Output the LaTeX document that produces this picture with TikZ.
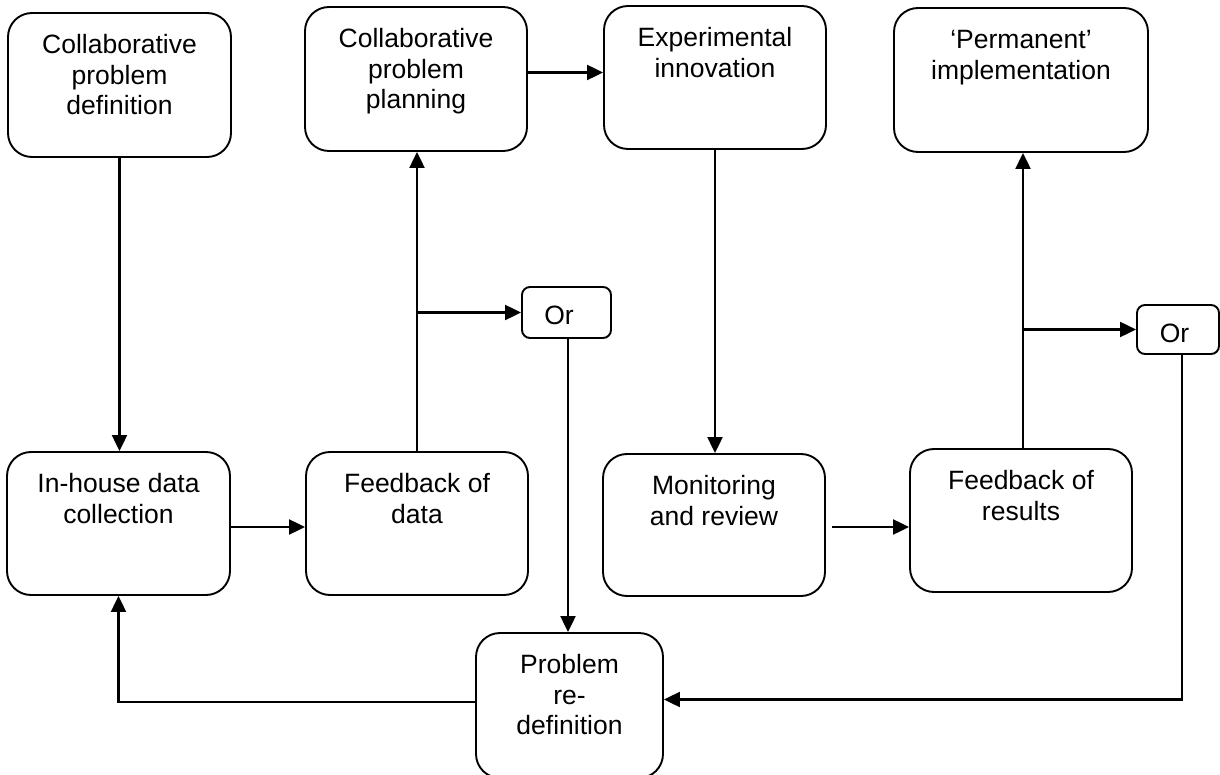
\documentclass[tikz,border=0pt]{standalone}
\usepackage{fontspec}
\setmainfont{Liberation Sans}
\usetikzlibrary{arrows.meta}
% top-aligned text block of a given width and height
\newcommand{\boxbody}[3]{\begin{minipage}[c][#2][t]{#1}\centering\vspace*{19.5pt}\strut #3\end{minipage}}

\begin{document}
\begin{tikzpicture}[x=1pt,y=-1pt,
  stage/.style={draw, line width=1.9pt, rounded corners=24pt, inner sep=0pt,
    font=\fontsize{26.5}{30.5}\selectfont},
  orbox/.style={draw, line width=1.9pt, rounded corners=8pt, inner sep=0pt,
    text height=25pt, text depth=0pt, font=\fontsize{26.5}{30.5}\selectfont},
  flow/.style={line width=2.2pt, -{Triangle[length=16pt,width=15pt]}}]
\useasboundingbox[fill=white] (0,0) rectangle (1220,775);

% stages
\node[stage] (def)   at (119.5,85)   {\boxbody{223pt}{144pt}{Collaborative\\problem\\definition}};
\node[stage] (plan)  at (416,79)     {\boxbody{222pt}{144pt}{Collaborative\\problem\\planning}};
\node[stage] (exp)   at (715,77.5)   {\boxbody{222pt}{143pt}{Experimental\\innovation}};
\node[stage] (perm)  at (1021,80)    {\boxbody{254pt}{144pt}{‘Permanent’\\implementation}};
\node[stage] (coll)  at (118.5,523.5){\boxbody{223pt}{143pt}{In-house data\\collection}};
\node[stage] (fbd)   at (417,523.5)  {\boxbody{222pt}{143pt}{Feedback of\\data}};
\node[stage] (mon)   at (714,525)    {\boxbody{222pt}{142pt}{Monitoring\\and review}};
\node[stage] (fbr)   at (1021,520.5) {\boxbody{222pt}{143pt}{Feedback of\\results}};
\node[stage] (redef) at (569.5,705.5){\boxbody{187pt}{145pt}{Problem\\re-\\definition}};

% decision points
\node[orbox, minimum width=89pt, minimum height=51pt] (or1) at (566.5,312.5) {\hspace*{-15pt}Or};
\node[orbox, minimum width=82pt, minimum height=49pt] (or2) at (1178,329.5)  {\hspace*{-7pt}Or};

% first cycle
\draw[flow] (def.south) -- (def.south |- coll.north);
\coordinate (ce) at ([yshift=-3.5pt]coll.east);
\draw[flow] (ce) -- (ce -| fbd.west);
\draw[flow] (fbd.north) -- (fbd.north |- plan.south);
\draw[flow] (fbd.north |- or1.west) -- (or1.west);
\coordinate (pe) at ([yshift=6.5pt]plan.east);
\draw[flow] (pe) -- (pe -| exp.west);

% second cycle
\draw[flow] (exp.south) -- (exp.south |- mon.north);
\coordinate (me) at ([xshift=6pt,yshift=-2pt]mon.east);
\draw[flow] (me) -- (me -| fbr.west);
\coordinate (ft) at ([xshift=2pt]fbr.north);
\draw[flow] (ft) -- (ft |- perm.south);
\draw[flow] (ft |- or2.west) -- (or2.west);

% back to problem re-definition
\coordinate (o1) at ([xshift=1.5pt]or1.south);
\draw[flow] (o1) -- (o1 |- redef.north);
\coordinate (o2) at ([xshift=4pt]or2.south);
\coordinate (re) at ([yshift=6pt]redef.east);
\draw[flow] (o2) -- (o2 |- re) -- (re);
\coordinate (rw) at ([yshift=3.5pt]redef.west);
\draw[flow] (rw) -- (rw -| coll.south) -- (coll.south);
\end{tikzpicture}
\end{document}
